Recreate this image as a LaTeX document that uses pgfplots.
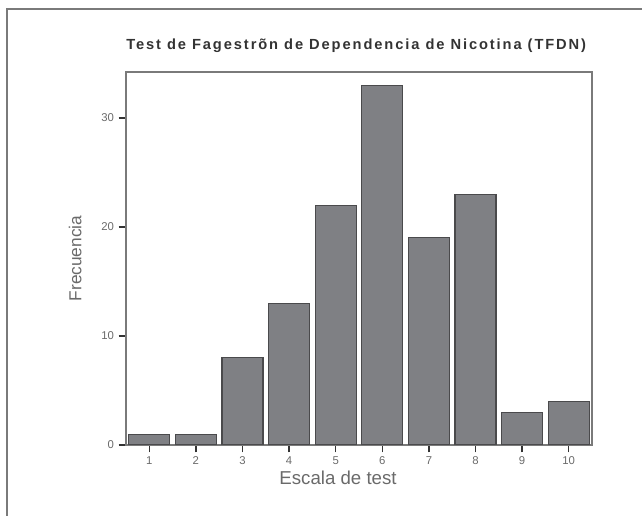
\documentclass[border=0pt]{standalone}
\usepackage{pgfplots}
\pgfplotsset{compat=1.18}
\usepackage{fontspec}
\setmainfont{Liberation Sans}
\newfontfamily\titlefont[LetterSpace=13]{Liberation Sans}
\definecolor{barfill}{HTML}{7F8084}
\definecolor{bardraw}{HTML}{4A4A4C}
\definecolor{axisgray}{HTML}{7A7A7A}
\definecolor{textgray}{HTML}{6A6A6A}
\begin{document}
\begin{tikzpicture}
\useasboundingbox (-94.5pt,-53.25pt) rectangle (387pt,333.75pt);
\draw[color=axisgray, line width=1.1pt] (-89.25pt,-53.25pt) -- (-89.25pt,327pt) -- (387pt,327pt);
\begin{axis}[
  at={(0pt,0pt)}, anchor=south west,
  scale only axis, width=349.5pt, height=279.75pt,
  xmin=0.5, xmax=10.5, ymin=0, ymax=34.2,
  ybar, bar width=0.88,
  xtick={1,2,3,4,5,6,7,8,9,10},
  ytick={0,10,20,30},
  tick align=outside, tick pos=left,
  major tick length=5.5pt,
  every tick/.style={black!80, line width=1.1pt},
  axis line style={axisgray, line width=1.4pt},
  /pgf/number format/assume math mode=true,
  ticklabel style={font=\fontsize{8.5pt}{9pt}\selectfont, color=textgray},
  title={Test de Fagestrõn de Dependencia de Nicotina (TFDN)},
  title style={at={(axis description cs:0.494,1)}, anchor=base, yshift=10.5pt,
    font=\titlefont\bfseries\fontsize{11pt}{13pt}\selectfont, color=black!80},
  xlabel={Escala de test},
  xlabel style={at={(axis description cs:0.455,-0.0885)}, anchor=center,
    font=\fontsize{14pt}{16pt}\selectfont, color=textgray},
  ylabel={Frecuencia},
  ylabel style={at={(axis description cs:-0.109,0.5)}, anchor=center,
    font=\fontsize{13pt}{15pt}\selectfont, color=textgray},
]
\addplot[fill=barfill, draw=bardraw, line width=0.8pt]
  coordinates {(1,1) (2,1) (3,8) (4,13) (5,22) (6,33) (7,19) (8,23) (9,3) (10,4)};
\end{axis}
\end{tikzpicture}
\end{document}
